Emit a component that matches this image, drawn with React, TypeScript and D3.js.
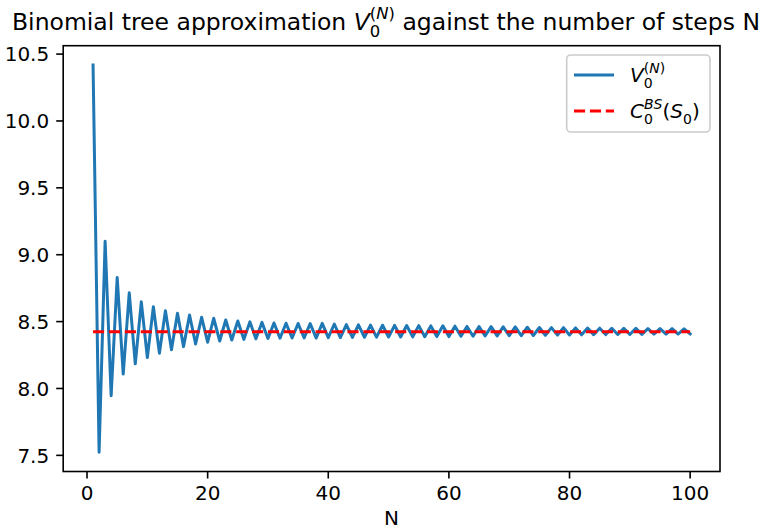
import React from "react";
import * as d3 from "d3";

// V_0^(N) for N = 1..100
const binomialValues: number[] = [
  10.418, 7.524, 9.100, 7.946, 8.830, 8.108, 8.715, 8.184, 8.648, 8.231,
  8.611, 8.264, 8.581, 8.289, 8.562, 8.313, 8.549, 8.333, 8.532, 8.346,
  8.525, 8.355, 8.512, 8.362, 8.505, 8.367, 8.498, 8.371, 8.494, 8.374,
  8.490, 8.376, 8.488, 8.377, 8.486, 8.378, 8.485, 8.377, 8.487, 8.380,
  8.482, 8.381, 8.478, 8.382, 8.476, 8.383, 8.474, 8.384, 8.473, 8.385,
  8.472, 8.385, 8.471, 8.386, 8.470, 8.387, 8.468, 8.388, 8.469, 8.388,
  8.466, 8.390, 8.464, 8.391, 8.463, 8.392, 8.462, 8.393, 8.461, 8.394,
  8.460, 8.395, 8.458, 8.396, 8.456, 8.398, 8.455, 8.399, 8.455, 8.400,
  8.453, 8.401, 8.452, 8.402, 8.451, 8.403, 8.450, 8.404, 8.450, 8.404,
  8.449, 8.405, 8.448, 8.406, 8.448, 8.406, 8.447, 8.407, 8.446, 8.408,
];
const bsPrice = 8.425;
const xTickValues = [0, 20, 40, 60, 80, 100];
const yTickValues = [7.5, 8.0, 8.5, 9.0, 9.5, 10.0, 10.5];

const W = 763;
const H = 529;
const plot = { left: 63.2, right: 720, top: 45.7, bottom: 471.5 };
const FONT = "DejaVu Sans";
const BLUE = "#1f77b4";

export default function App() {
  const points = binomialValues.map((v, i) => ({ n: i + 1, v }));
  const nMin = 1;
  const nMax = points.length;
  const xPad = (nMax - nMin) * 0.05;
  const x = d3.scaleLinear().domain([nMin - xPad, nMax + xPad]).range([plot.left, plot.right]);
  const vMin = d3.min(binomialValues)!;
  const vMax = d3.max(binomialValues)!;
  const yPad = (vMax - vMin) * 0.05;
  const y = d3.scaleLinear().domain([vMin - yPad, vMax + yPad]).range([plot.bottom, plot.top]);

  const line = d3
    .line<{ n: number; v: number }>()
    .x((d) => x(d.n))
    .y((d) => y(d.v));
  const bsLine = d3.line<number>().x((d) => x(d)).y(() => y(bsPrice));

  const tickFs = 20;
  const titleFs = 23.5;
  const legFs = 20;

  const sup = (fs: number) => fs * 0.45;
  const sub = (fs: number) => fs * 0.3;

  const tSupW = (0.39 + 0.748 + 0.39) * 0.7 * titleFs;
  const tSubW = 0.636 * 0.7 * titleFs;

  const lSupW = (0.39 + 0.748 + 0.39) * 0.7 * legFs;
  const lSubW = 0.636 * 0.7 * legFs;
  const bsSupW = (0.686 + 0.635) * 0.7 * legFs;

  const legX = 566.7;
  const legY = 55;
  const legW = 143.3;
  const legH = 77;

  return (
    <svg
      width={W}
      height={H}
      style={{ position: "absolute", left: 0, top: 0, display: "block", background: "#fff" }}
      fontFamily={FONT}
    >
      <rect x={0} y={0} width={W} height={H} fill="#fff" />
      <defs>
        <clipPath id="plotclip">
          <rect x={plot.left} y={plot.top} width={plot.right - plot.left} height={plot.bottom - plot.top} />
        </clipPath>
      </defs>
      <g clipPath="url(#plotclip)">
        <path d={line(points) || ""} fill="none" stroke={BLUE} strokeWidth={3} strokeLinejoin="round" strokeLinecap="square" />
        <path d={bsLine([nMin, nMax]) || ""} fill="none" stroke="#ff0000" strokeWidth={3} strokeDasharray="11.1,4.8" />
      </g>
      <rect
        x={plot.left}
        y={plot.top}
        width={plot.right - plot.left}
        height={plot.bottom - plot.top}
        fill="none"
        stroke="#000"
        strokeWidth={1.6}
      />
      {xTickValues.map((t) => (
        <g key={"x" + t}>
          <line x1={x(t)} x2={x(t)} y1={plot.bottom} y2={plot.bottom + 7} stroke="#000" strokeWidth={1.6} />
          <text x={x(t)} y={plot.bottom + 28.5} textAnchor="middle" fontSize={tickFs} fill="#000">
            {t}
          </text>
        </g>
      ))}
      {yTickValues.map((t) => (
        <g key={"y" + t}>
          <line x1={plot.left - 7} x2={plot.left} y1={y(t)} y2={y(t)} stroke="#000" strokeWidth={1.6} />
          <text x={plot.left - 14} y={y(t) + 7.3} textAnchor="end" fontSize={tickFs} fill="#000">
            {t.toFixed(1)}
          </text>
        </g>
      ))}
      <text x={(plot.left + plot.right) / 2} y={525} textAnchor="middle" fontSize={tickFs} fill="#000">
        N
      </text>
      <text x={386} y={30} textAnchor="middle" fontSize={titleFs} fill="#000">
        <tspan>Binomial tree approximation </tspan>
        <tspan fontStyle="italic">V</tspan>
        <tspan fontSize={titleFs * 0.7} dy={-sup(titleFs)}>(</tspan>
        <tspan fontSize={titleFs * 0.7} fontStyle="italic">N</tspan>
        <tspan fontSize={titleFs * 0.7}>)</tspan>
        <tspan fontSize={titleFs * 0.7} dx={-tSupW} dy={sup(titleFs) + sub(titleFs)}>0</tspan>
        <tspan dx={tSupW - tSubW} dy={-sub(titleFs)}> against the number of steps N</tspan>
      </text>
      <rect
        x={legX}
        y={legY}
        width={legW}
        height={legH}
        rx={4}
        ry={4}
        fill="#fff"
        fillOpacity={0.8}
        stroke="#cccccc"
        strokeWidth={1.6}
      />
      <line x1={574} x2={614} y1={75} y2={75} stroke={BLUE} strokeWidth={3} />
      <line x1={574} x2={614} y1={111} y2={111} stroke="#ff0000" strokeWidth={3} strokeDasharray="11.1,4.8" />
      <text x={630} y={82} fontSize={legFs} fill="#000">
        <tspan fontStyle="italic">V</tspan>
        <tspan fontSize={legFs * 0.7} dy={-sup(legFs)}>(</tspan>
        <tspan fontSize={legFs * 0.7} fontStyle="italic">N</tspan>
        <tspan fontSize={legFs * 0.7}>)</tspan>
        <tspan fontSize={legFs * 0.7} dx={-lSupW} dy={sup(legFs) + sub(legFs)}>0</tspan>
      </text>
      <text x={630} y={118} fontSize={legFs} fill="#000">
        <tspan fontStyle="italic">C</tspan>
        <tspan fontSize={legFs * 0.7} fontStyle="italic" dy={-sup(legFs)}>BS</tspan>
        <tspan fontSize={legFs * 0.7} dx={-bsSupW} dy={sup(legFs) + sub(legFs)}>0</tspan>
        <tspan dx={bsSupW - lSubW} dy={-sub(legFs)}>(</tspan>
        <tspan fontStyle="italic">S</tspan>
        <tspan fontSize={legFs * 0.7} dy={sub(legFs)}>0</tspan>
        <tspan dy={-sub(legFs)}>)</tspan>
      </text>
    </svg>
  );
}
